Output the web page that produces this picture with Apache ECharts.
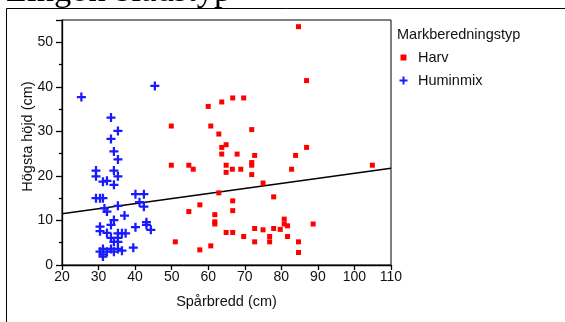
<!DOCTYPE html>
<html>
<head>
<meta charset="utf-8">
<script src="https://cdn.jsdelivr.net/npm/echarts@6/dist/echarts.min.js"></script>
<style>
  html, body { margin: 0; padding: 0; background: #fff; }
  #chart { width: 565px; height: 322px; }
</style>
</head>
<body>
<div id="chart"></div>
<script>
// Harv (soil preparation: harrow)
const harvX = [49.9, 60.0, 63.7, 66.7, 69.7, 60.7, 62.9, 71.9, 64.9, 63.7,
               63.7, 67.9, 72.7, 49.9, 54.7, 55.9, 64.9, 64.9, 66.6, 68.9,
               71.9, 71.9, 71.9, 75.0, 62.9, 77.9, 66.7, 57.7, 66.7, 54.7,
               61.8, 61.8, 61.8, 64.9, 66.7, 69.7, 72.7, 75.0, 77.9, 76.8,
               76.8, 72.7, 51.0, 60.7, 57.7, 84.7, 86.9, 86.9, 83.9, 82.8,
               104.9, 80.8, 80.8, 81.7, 88.7, 79.7, 81.7, 84.7, 84.7];
const harvY = [31.2, 35.6, 36.6, 37.5, 37.5, 31.2, 29.4, 30.4, 27.0, 26.4,
               24.9, 24.9, 24.6, 22.4, 22.4, 21.5, 22.4, 20.8, 21.5, 21.5,
               23.0, 22.4, 20.3, 18.4, 16.2, 15.3, 14.4, 13.5, 12.2, 12.0,
               11.3, 9.7, 9.2, 7.3, 7.3, 6.4, 8.2, 7.9, 8.2, 6.4,
               5.2, 5.2, 5.2, 4.3, 3.4, 53.5, 41.4, 26.4, 24.6, 21.5,
               22.4, 10.3, 9.2, 8.8, 9.2, 8.0, 6.4, 5.2, 2.8];

// Huminmix
const huminX = [25.3, 45.4, 33.4, 35.3, 33.4, 34.2, 35.3, 29.3, 29.3, 34.2,
                35.3, 31.2, 32.3, 34.2, 29.3, 30.4, 31.2, 40.1, 42.4, 41.2,
                42.4, 35.3, 31.6, 32.3, 37.1, 34.2, 33.4, 30.4, 30.4, 40.1,
                43.1, 43.1, 44.3, 32.3, 35.3, 36.4, 37.4, 33.4, 35.3, 34.2,
                35.3, 39.5, 31.2, 33.4, 35.3, 36.4, 30.4, 32.3, 34.2, 31.2,
                31.2];
const huminY = [37.7, 40.2, 33.1, 30.1, 28.3, 25.5, 23.7, 21.2, 19.9, 21.2,
                19.9, 18.7, 18.9, 18.0, 15.0, 15.0, 15.0, 15.9, 15.9, 14.1,
                13.1, 13.3, 12.7, 12.0, 11.1, 10.1, 9.0, 8.6, 7.6, 8.5,
                9.6, 9.0, 7.9, 7.2, 7.1, 7.1, 7.1, 6.1, 6.1, 5.2,
                5.2, 3.9, 3.6, 3.6, 3.6, 3.2, 3.0, 3.0, 3.0, 2.4,
                1.9];

// Fitted line over the full x range
const fitX = [20, 110];
const fitY = [11.5, 21.7];

const xTicks = { min: 20, max: 110, step: 10 };
const yTicks = { min: 0, max: 55, step: 10 };

const pair = (xs, ys) => xs.map((x, i) => [x, ys[i]]);

const PLUS = 'path://M3,0H5V3H8V5H5V8H3V5H0V3H3Z';
const legendPlus = 'path://M0,0M14,9M3.5,0.5H5.5V3.5H8.5V5.5H5.5V8.5H3.5V5.5H0.5V3.5H3.5Z';
const legendSquare = 'path://M0,0M14,9M1.5,1.5H7.5V7.5H1.5Z';

const FONT = '"Liberation Sans", Arial, sans-serif';

const chart = echarts.init(document.getElementById('chart'), null, { renderer: 'canvas' });
chart.setOption({
  animation: false,
  backgroundColor: '#fff',
  grid: {
    left: 62, right: 174, top: 20, bottom: 57,
    show: true, borderColor: '#000', borderWidth: 1
  },
  xAxis: {
    type: 'value',
    min: xTicks.min, max: xTicks.max, interval: xTicks.step,
    name: 'Spårbredd (cm)', nameLocation: 'middle', nameGap: 29,
    nameMoveOverlap: false,
    nameTextStyle: { fontFamily: FONT, fontSize: 14.5, color: '#111' },
    axisLine: { onZero: false, lineStyle: { color: '#000', width: 1.3 } },
    axisTick: { length: 5, lineStyle: { color: '#000', width: 1.3 } },
    axisLabel: { margin: 5, fontFamily: FONT, fontSize: 14, color: '#111' },
    splitLine: { show: false }
  },
  yAxis: {
    type: 'value',
    min: yTicks.min, max: yTicks.max, interval: yTicks.step,
    name: 'Högsta höjd (cm)', nameLocation: 'middle', nameGap: 27,
    nameMoveOverlap: false,
    nameTextStyle: { fontFamily: FONT, fontSize: 14.5, color: '#111', padding: [0, 0, 0, 12] },
    axisLine: { onZero: false, lineStyle: { color: '#000', width: 1.3 } },
    axisTick: { length: 6, lineStyle: { color: '#000', width: 1.3 } },
    minorTick: { show: true, splitNumber: 2, length: 3, lineStyle: { color: '#000', width: 1.3 } },
    axisLabel: { margin: 9, fontFamily: FONT, fontSize: 14, color: '#111', showMaxLabel: false },
    splitLine: { show: false }
  },
  legend: {
    orient: 'vertical',
    left: 394, top: 45,
    itemWidth: 14, itemHeight: 9, itemGap: 8,
    textStyle: { fontFamily: FONT, fontSize: 14.5, color: '#111' },
    data: [
      { name: 'Harv', icon: legendSquare },
      { name: 'Huminmix', icon: legendPlus }
    ]
  },
  graphic: [
    {
      type: 'rect', silent: true, z: -1,
      shape: { x: 6.5, y: 8.5, width: 600, height: 400 },
      style: { fill: 'none', stroke: '#000', lineWidth: 1 }
    },
    {
      type: 'text', silent: true,
      x: 6, y: -26,
      style: { text: 'Lingon bladstyp', font: '34.5px "Liberation Serif", "Times New Roman", serif', fill: '#000' }
    },
    {
      type: 'text', silent: true,
      x: 397, y: 35,
      style: { text: 'Markberedningstyp', font: '14.5px ' + FONT, fill: '#111', verticalAlign: 'middle' }
    }
  ],
  series: [
    {
      name: 'Harv', type: 'scatter',
      symbol: 'rect', symbolSize: 5,
      itemStyle: { color: '#ff0000', opacity: 1 },
      data: pair(harvX, harvY), z: 3
    },
    {
      name: 'Huminmix', type: 'scatter',
      symbol: PLUS, symbolSize: 9,
      itemStyle: { color: '#1a1aff', opacity: 1 },
      data: pair(huminX, huminY), z: 3
    },
    {
      name: 'fit', type: 'line',
      data: pair(fitX, fitY),
      showSymbol: false, symbol: 'none', silent: true,
      lineStyle: { color: '#000', width: 1.5 }, z: 2
    }
  ]
});
</script>
</body>
</html>
